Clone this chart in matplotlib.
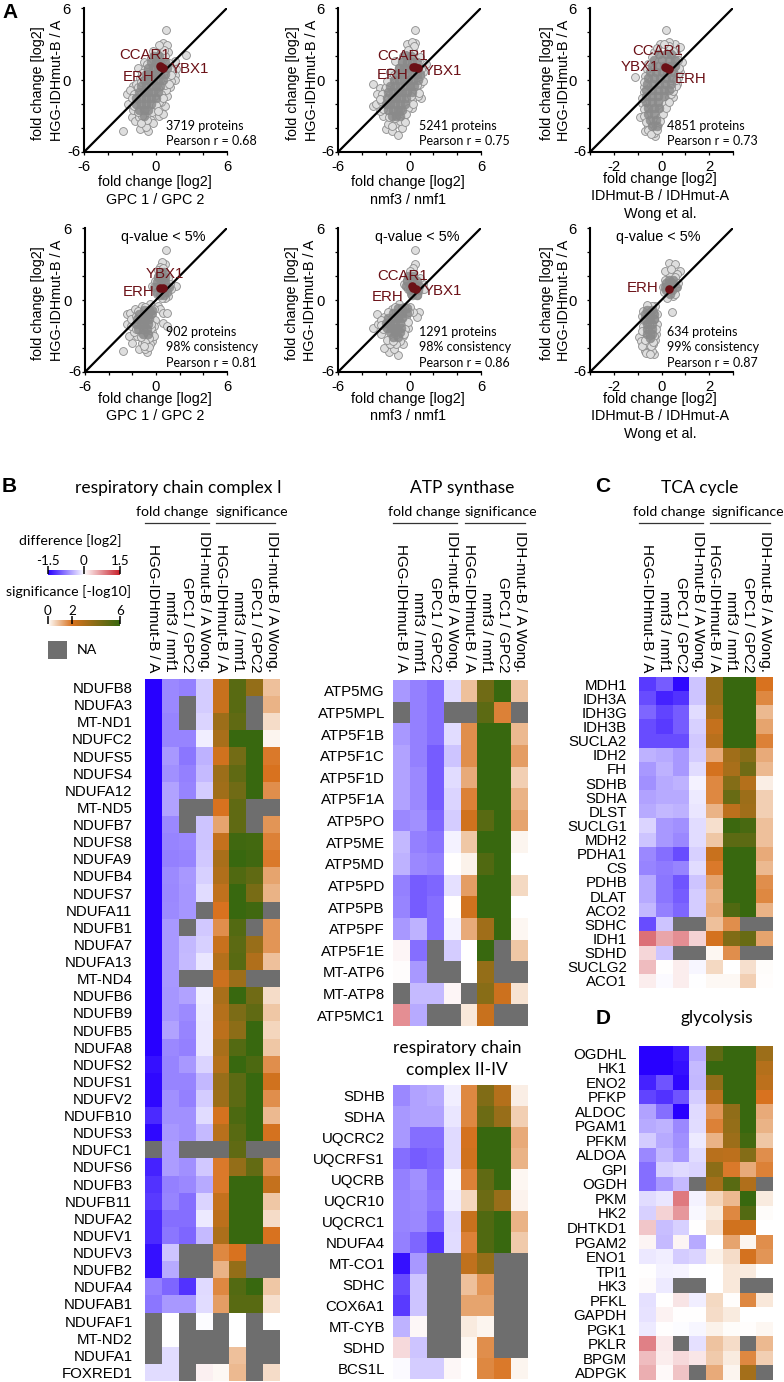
import numpy as np
import matplotlib
matplotlib.use('Agg')
import matplotlib.pyplot as plt
from matplotlib.colors import LinearSegmentedColormap, Normalize
from matplotlib.transforms import ScaledTranslation

plt.rcParams['font.family'] = ['Liberation Sans', 'DejaVu Sans']
W, H = 784, 1382
N = np.nan

# ---------- scatter data (log2 fold changes) ----------
P1_x = [.87,.65,.93,.37,1.07,2.55,-.95,-1.5,1.6,1.76,1.6,1.6,1.2,.93,.8,-.05,-.38,-.6,-1.3,-2.7,-2,-2.4,-2.3,-1.85,-1.3,.3,-1,-1.7,1.3,1.4,.9,.5,-.2,1.1,.8,.1,-.4,-.9,-1.6,-2.1,-1.9,-1.4,-.8,.6]
P1_y = [4.19,3.07,2.93,2.6,2.3,2.1,1.5,1,1.6,.9,.45,0,-.6,-1.3,-2.15,-2.4,-3.3,-4.25,-4.1,-4.25,-3.1,-1.2,-2,-.5,.2,-3,-3.5,-3.4,-.1,.7,-.8,-1.8,-3.6,1.4,2,2.1,1.8,.9,-.3,-.8,-2.5,-3.1,-3.9,-2.8]
P1_mid_x = [-1.8,-1.5,-1.2,-.9,-.6,-.4,1.2,1,.8,.5,.3,0,-.3,-.7,-1.1,-1.5,-1.8,-2,-1.2,.2,.6,1.1,1.3,.7,.3,-.2,-.7,-1.1]
P1_mid_y = [-1.2,-.6,-.2,.3,.9,1.4,.9,.2,-.4,-1.2,-1.8,-2.1,-2.7,-3.3,-3,-2.7,-2.2,-1.5,-3.6,-2.6,-1.5,-.3,.4,2.5,2.9,2.4,1.3,.6]
P1_core_y = [2,1.5,1,.5,0,-.5,-1,-1.5,-2,-2.5,-3]
P1_core_x = [[-.1,.3],[-.4,0,.4,.8],[-.6,-.2,.2,.6,1],[-.8,-.4,0,.4,.8],[-1,-.6,-.2,.2,.6],[-1.2,-.8,-.4,0,.4],[-1.4,-1,-.6,-.2,.2],[-1.6,-1.2,-.8,-.4,0],[-1.6,-1.2,-.8,-.4],[-1.4,-1,-.6],[-1]]
P1_hit_x = [.35,.45,.6]
P1_hit_y = [1.15,1.05,1.0]

P2_x = [.5,.45,0,-3.05,-2.5,-2.7,-3.05,-2.8,-2.2,-2,-1.5,-1,-.67,-.5,.17,1,.6,.87,1.15,1.4,.87,-1.2,-1.65,-2.07,-2.35,-2.5,-1.8,-1.2,-.8,-.2,.3,-.55,.7,1.15]
P2_y = [4.2,3.08,3,-.35,-.67,-1.18,-2.15,-2,-3,-4.1,-4.25,-4.6,-4,-3,-2.3,-1.5,-.9,-.33,-.05,1.35,1.9,1.6,.65,-.75,-1.75,-2.6,-3.7,-3.7,-2.6,3,2.45,2,-1.3,.65]
P2_mid_x = [-2.3,-2,-1.7,-1.3,-.9,-.6,1,.9,.6,.5,.2,-.1,-.3,-.8,-1.2,-1.7,-2.2,-2.5,-1.5,-.4,.1,.2,.4,-.1,-.3,-1.9,.3,.8]
P2_mid_y = [-1.2,-.6,-.2,.4,1,1.5,.9,.3,-.4,-1,-1.7,-2.3,-2.8,-3.4,-3.2,-3.1,-2.4,-1.6,-3.8,-3.5,-1.3,3.2,2.8,2.5,2.1,-.1,-2,-1.1]
P2_core_y = [2,1.5,1,.5,0,-.5,-1,-1.5,-2,-2.5,-3]
P2_core_x = [[-.3,.1],[-.6,-.2,.2,.6],[-.9,-.5,-.1,.3,.7],[-1,-.6,-.2,.2,.6,.9],[-1.3,-.9,-.5,-.1,.3,.7],[-1.6,-1.2,-.8,-.4,0,.4],[-1.8,-1.4,-1,-.6,-.2,.2],[-1.9,-1.5,-1.1,-.7,-.3],[-2,-1.6,-1.2,-.8,-.4],[-1.8,-1.4,-1,-.6],[-1.5,-1.1,-.8]]
P2_hit_x = [.3,.5,.7]
P2_hit_y = [1.1,1.05,1.0]

P3_x = [.17,.57,.3,.78,.85,.78,.65,.5,.3,0,-.13,-.27,-.7,-.9,-.83,-.75,-1.1,-.55,-.33,-.05,.65,.5,-.05,-.33,-.55,-.7,.15,.7]
P3_y = [4.2,3,3.15,2.75,1.5,.65,-.33,-.75,-1.45,-2.6,-3.7,-4.7,-4.25,-3.1,-1.9,-.6,.28,1.35,2.3,3,2.05,-1.45,-3.1,-4.4,-3.85,-2.3,-2,.2]
P3_mid_x = [-.75,-.8,-.75,-.75,-.65,-.55,-.45,-.2,-.05,.05,.2,.3,.4,.5,.6,.7,.75,.7,.5,.3,.1,-.2,-.4,-.6,-.7,-.75,.6,.4]
P3_mid_y = [-1,-1.5,-2.4,-3,-3.5,-4.2,-4.5,-4.2,-3.4,-2.8,-2.3,-1.8,-1.2,-.9,-.5,.5,1,1.7,2.4,2.8,3,2.7,1.9,.9,.3,-.2,0,-.7]
P3_core_y = [2.2,1.7,1.2,.7,.2,-.3,-.8,-1.3,-1.8,-2.3,-2.8,-3.3,-3.8]
P3_core_x = [[-.1,.2,.4],[-.3,0,.3,.55],[-.4,-.15,.1,.35,.55],[-.5,-.25,0,.25,.5],[-.55,-.3,-.05,.2,.45],[-.6,-.35,-.1,.15,.4],[-.65,-.4,-.15,.1,.3],[-.65,-.4,-.15,.1],[-.65,-.4,-.15],[-.55,-.3,-.1],[-.55,-.3],[-.5,-.25],[-.4,-.2]]
P3_hit_x = [.15,.25,.3]
P3_hit_y = [1.1,1.0,.95]

P4_x = [.87,.75,.5,-.37,1.7,1.3,1,.35,.2,.35,.6,.95,.6,.95,-.3,-.35,-.73,-1.4,-2.75,-2.05,-2.25,-2.47,-2.47,-2.2,-1.75,-1.2,-.5,-.5,-.2,-.93,-.5,-1.2,-1.6]
P4_y = [4.2,3,3.15,1.2,1.15,.9,.35,2.75,-.5,-.75,-1.05,-1.05,-1.9,-2.15,-2.7,-3.4,-4.35,-4.1,-4.25,-3.55,-3,-1.2,-2,-1.05,-.75,-.5,-.35,-1.75,-.75,-4.1,-3.7,-3.55,-3]
P4_mid_x = [.2,.6,-.1,-.2,.1,1,1.2,.8,.5,.2,-.3,-.1,-.2,-.4,-.2,-.6,-.9,-1.3,-1.9,-2.1,-2.1,-1.7,-1.5,-.9,-.6,-1,-1.7,-.45]
P4_mid_y = [2.5,2.7,1.6,1.1,.5,1.8,1.3,.2,.2,2,-1.2,-1.7,-2.2,-2.3,-3,-3.2,-3.5,-3.1,-2.7,-2.2,-1.6,-1.3,-.9,-.6,-3.9,-3.8,-2.4,-2]
P4_core_y = [2.3,1.9,1.5,1.1,.7,.4,-.8,-1.2,-1.6,-2,-2.4,-2.8]
P4_core_x = [[.4,.7],[.2,.5,.8],[.1,.4,.8],[0,.4,.8,1.1],[.1,.5,.9],[.3,.7],[-1,-.6,-.3],[-1.4,-1,-.7,-.4],[-1.6,-1.2,-.9,-.6],[-1.7,-1.3,-1,-.7],[-1.5,-1.1,-.8],[-1.1,-.7]]
P4_hit_x = [.35,.55]
P4_hit_y = [1.0,1.0]

P5_x = [.47,.42,.28,-.42,.84,1.1,.78,.6,.28,-.28,-.14,-.56,-.98,-1.68,-2.1,-2.37,-3.07,-2.74,-2.1,-1.5,-.84,-.56,-1.26,0,-2.65]
P5_y = [4.2,3,2.68,1.35,.8,1.35,-1.03,-1.45,-1.03,-1.45,-2.3,-3,-4.6,-4.3,-4,-2.85,-2.3,-1.17,-1.45,-.75,-.33,-3.7,-4.1,-.6,-2]
P5_mid_x = [0,.3,-.2,-.1,.9,1.2,.6,.1,-.05,-.5,-.1,-.4,-.5,-.8,-1.1,-1.6,-1.9,-2.2,-2.4,-1.8,-1.2,-2.4,-1.4]
P5_mid_y = [2.4,2.2,1.7,.9,1.8,.9,.4,.5,-1,-.6,-1.8,-2.4,-2.8,-3.4,-3.7,-3.7,-3.3,-2.4,-1.7,-1,-.6,-2.1,-3.4]
P5_core_y = [2,1.6,1.2,.8,.4,-.7,-1.1,-1.5,-1.9,-2.3,-2.7,-3.1]
P5_core_x = [[-.1,.3],[-.2,.2,.6],[-.3,.1,.5,.8],[0,.4,.7],[.2,.6],[-1,-.6,-.2],[-1.4,-1,-.6,-.2],[-1.8,-1.4,-1,-.6],[-2,-1.6,-1.2,-.8],[-1.9,-1.5,-1.1,-.7],[-1.6,-1.2,-.8],[-1.4,-1]]
P5_hit_x = [.25,.3,.55]
P5_hit_y = [1.15,1.0,.95]

P6_x = [.3,.58,.79,.37,.65,.43,.22,.5,.65,-.27,-.2,-.2,-.22,-.34,-.3,-.69,-.93,-.83,-.76,-.48,-.4,-.6,-.27,-.76]
P6_y = [3.07,3,2.45,2.05,1.05,-1,1.35,.35,2.2,-.5,-1.17,-2,-2.85,-3.7,-4.5,-4.25,-3.1,-1.3,-.9,-.6,-4.25,-3.7,-3.3,-2.15]
P6_mid_x = [.15,.4,.55,.15,.05,.1,.55,.7,.25,.4,-.4,-.3,-.25,-.3,-.75,-.8,-.85,-.8,-.65,-.5,-.45,-.7,-.35,-.5,-.35,-.6]
P6_mid_y = [2.4,2.6,1.9,1.7,1.1,.7,.5,1.4,.2,.9,-.5,-1.6,-2.4,-3,-1.7,-2.6,-3.4,-3.8,-4.4,-4.5,-3.8,-3.3,-3.5,-2.9,-1,-.4]
P6_core_y = [1.7,1.4,1.1,.8,.5,-.8,-1.2,-1.6,-2,-2.4,-2.8,-3.2]
P6_core_x = [[.3,.5],[.2,.45],[.15,.35,.6],[.2,.45],[.35],[-.6,-.4],[-.7,-.5,-.3],[-.7,-.5,-.3],[-.6,-.4],[-.6,-.4],[-.6,-.4],[-.5]]
P6_hit_x = [.3]
P6_hit_y = [.95]

# ---------- heat map data: four log2 differences, then four -log10 significances ----------
col_labels = ['HGG-IDHmut-B / A', 'nmf3 / nmf1', 'GPC1 / GPC2', 'IDH-mut-B / A Wong.',
              'HGG-IDHmut-B / A', 'nmf3 / nmf1', 'GPC1 / GPC2', 'IDH-mut-B / A Wong.']

c1_genes = ['NDUFB8','NDUFA3','MT-ND1','NDUFC2','NDUFS5','NDUFS4','NDUFA12','MT-ND5','NDUFB7','NDUFS8','NDUFA9','NDUFB4','NDUFS7','NDUFA11','NDUFB1','NDUFA7','NDUFA13','MT-ND4','NDUFB6','NDUFB9','NDUFB5','NDUFA8','NDUFS2','NDUFS1','NDUFV2','NDUFB10','NDUFS3','NDUFC1','NDUFS6','NDUFB3','NDUFB11','NDUFA2','NDUFV1','NDUFV3','NDUFB2','NDUFA4','NDUFAB1','NDUFAF1','MT-ND2','NDUFA1','FOXRED1']
c1_vals = [
[-1.5,-.7,-.75,-.3,2.4,5.2,3.7,.9],[-1.5,-.7,N,-.3,2.4,5.2,N,1.1],[-1.5,-.72,N,-.25,3.5,5,N,.5],[-1.5,-.72,-.72,-.1,3.2,6,6,.15],
[-1.5,-.6,-.8,-.45,2.2,4.5,6,1.9],[-1.5,-.65,-.75,-.4,3.5,5,6,2],[-1.5,-.55,-.72,-.3,3.4,4.6,6,1.6],[-1.5,-.55,N,N,2,5,N,N],
[-1.5,-.7,N,-.35,1.3,5,N,1.5],[-1.5,-.72,-.7,-.35,2.5,5.8,5.7,1.8],[-1.5,-.75,-.72,-.32,3.2,6,5.8,1.9],[-1.5,-.68,-.6,-.28,3,5.4,5,1.3],
[-1.5,-.7,-.62,-.2,2.6,6,4.4,1.1],[-1.5,-.68,-.62,N,2,6,5.8,N],[-1.5,-.6,N,-.32,1.6,5.3,N,1.5],[-1.5,-.6,-.42,-.28,2.4,5.1,3.6,1.5],
[-1.5,-.6,-.4,-.15,2.9,5.2,3,.9],[-1.5,-.6,N,N,2.3,3.5,N,N],[-1.5,-.62,-.55,-.1,3.2,6,4.6,.5],[-1.5,-.62,-.68,-.12,2.9,4.3,5,.8],
[-1.5,-.55,-.72,-.13,2.7,3.9,6,.6],[-1.5,-.7,-.75,-.13,3.2,5.3,6,.8],[-1.4,-.72,-.6,-.25,2.9,6,5.5,1.6],[-1.45,-.72,-.72,-.42,3.6,5.1,6,2.2],
[-1.45,-.65,-.75,-.3,3.5,5.1,6,1.6],[-1.25,-.65,-.65,-.2,2.1,5.5,6,1],[-1.45,-.6,-.65,-.4,2.8,5.2,6,2.1],[N,-.58,N,N,N,5,N,N],
[-1.3,-.58,-.65,-.32,1.9,3.7,4.9,1.6],[-1.2,-.75,-.7,-.5,1.9,6,6,2.5],[-1.15,-.72,-.85,-.25,2.5,6,6,.8],[-1.25,-.85,-.85,-.12,2.7,6,6,.5],
[-1.25,-.8,-.9,-.4,3.1,6,6,2],[-1.4,-.35,N,N,1.7,2,N,N],[-1.4,-.5,N,N,1.1,3.7,N,N],[-.75,-.9,-1.2,-.22,1.7,5.3,6,.8],
[-.8,-.6,-.6,-.2,1.4,5.2,5.2,.45],[N,0,N,-.02,N,0,N,0],[N,-.01,N,N,N,0,N,N],[N,-.2,N,N,N,.9,N,N],[-.2,-.2,N,.1,.1,1,N,.5]]

atp_genes = ['ATP5MG','ATP5MPL','ATP5F1B','ATP5F1C','ATP5F1D','ATP5F1A','ATP5PO','ATP5ME','ATP5MD','ATP5PD','ATP5PB','ATP5PF','ATP5F1E','MT-ATP6','MT-ATP8','ATP5MC1']
atp_vals = [
[-.6,-.75,-.85,-.2,.9,4.6,6,.85],[N,-.75,-.85,N,N,5.1,1.8,N],[-.6,-.75,-.85,-.2,1.6,6,6,1],[-.55,-.75,-.95,-.35,1.6,6,6,1.4],
[-.55,-.7,-.95,-.2,1.2,6,6,.7],[-.55,-.7,-.95,-.25,1.8,6,6,1.1],[-.7,-.65,-.9,-.3,2.2,5.2,6,1.3],[-.42,-.75,-.82,-.08,.8,6,6,.15],
[-.45,-.7,-.75,0,.2,5.4,6,0],[-.75,-.95,-.9,-.18,1.4,6,6,.55],[-.72,-.95,-.85,0,2.2,6,6,.01],[-.6,-.45,-.85,-.08,1.2,3.4,6,.12],
[.06,-.85,N,-.3,0,6,N,.8],[.02,-.6,N,N,0,3.7,N,N],[N,-.4,-.4,.07,N,4,2.3,.4],[.75,-.5,N,N,.35,2.4,N,N]]

c24_genes = ['SDHB','SDHA','UQCRC2','UQCRFS1','UQCRB','UQCR10','UQCRC1','NDUFA4','MT-CO1','SDHC','COX6A1','MT-CYB','SDHD','BCS1L']
c24_vals = [
[-.7,-.55,-.5,-.1,1.7,4.2,2.9,.25],[-.6,-.55,-.55,-.15,1.7,4.7,3.6,.7],[-.6,-.85,-.85,-.22,2.1,6,6,1.2],[-.85,-.95,-.9,-.22,2.2,6,6,1.1],
[-.75,-.65,-.85,-.05,1.8,5,6,.12],[-.72,-.68,-.8,-.1,.6,4.7,3.6,.18],[-.72,-.7,-.9,-.22,2.4,5.4,6,1.1],[-.75,-.9,-1.2,-.2,1.8,5.4,6,.75],
[-1.4,-.6,N,N,2.6,3.7,N,N],[-1.05,-.35,N,N,.9,1.5,N,N],[-1.15,-.35,N,N,1.3,1.3,N,N],[-.45,.05,N,N,.3,.15,N,N],[.25,-.35,N,N,.12,1.6,N,N],[-.03,-.3,-.3,.05,0,1.7,1.9,.15]]

tca_genes = ['MDH1','IDH3A','IDH3G','IDH3B','SUCLA2','IDH2','FH','SDHB','SDHA','DLST','SUCLG1','MDH2','PDHA1','CS','PDHB','DLAT','ACO2','SDHC','IDH1','SDHD','SUCLG2','ACO1']
tca_vals = [
[-1.15,-.95,-1.45,-.35,3.7,6,6,2],[-1.05,-1.3,-1.2,-.35,3.7,6,6,1.7],[-.9,-1.1,-.95,-.2,3.2,6,6,1],[-1.05,-1.15,-.95,-.28,2.5,6,6,1.3],
[-1.05,-1.05,-1.05,-.32,2.8,6,6,1.8],[-.45,-.5,-.6,-.3,1.2,3.4,4,1.2],[-.6,-.45,-.6,-.2,2.1,3.2,4.6,1],[-.65,-.5,-.45,-.08,1.7,4.1,2.9,.25],
[-.55,-.5,-.5,-.12,1.7,4.8,3.5,.7],[-.5,-.42,-.45,-.15,1.1,2.7,3.4,.7],[-.25,-.6,-.65,-.2,.45,5.9,5.6,.9],[-.35,-.6,-.7,-.2,.8,5.1,5.1,.9],
[-.7,-.85,-1.05,-.28,2.4,6,6,1.2],[-.72,-.78,-.72,-.2,1.9,6,6,1],[-.5,-.8,-1,-.35,1.3,6,6,1.6],[-.5,-.8,-.95,-.3,1.1,6,6,1.7],
[-.42,-.75,-.9,-.3,1.2,5.4,6,1.1],[-1.05,-.35,N,N,.9,1.6,N,N],[.95,.6,.75,.3,2.1,4.2,4.8,1.3],[.27,-.35,N,N,.12,1.6,N,N],
[.45,.01,.12,-.05,.55,.02,.45,.06],[.12,-.03,.12,-.01,.1,.1,.7,.03]]

gly_genes = ['OGDHL','HK1','ENO2','PFKP','ALDOC','PGAM1','PFKM','ALDOA','GPI','OGDH','PKM','HK2','DHTKD1','PGAM2','ENO1','TPI1','HK3','PFKL','GAPDH','PGK1','PKLR','BPGM','ADPGK']
gly_vals = [
[-1.5,-1.5,-1.35,-.5,5,6,6,3.5],[-1.5,-1.5,-1.4,-.4,6,6,6,2.9],[-1.3,-1,-1.45,-.42,3.8,6,6,2.7],[-1.1,-1.2,-1,-.3,2.8,6,6,2],
[-.55,-.85,-1.5,-.22,1.5,3.8,6,1.2],[-.5,-.45,-.7,-.2,1.8,3.7,6,1.1],[-.3,-.5,-.65,-.12,1.1,3.5,5.7,.8],[-.7,-.42,-.6,-.2,2.8,2.7,4.1,1.6],
[-.85,-.28,-.22,-.25,3.9,1.9,1.2,1.8],[-.85,-.6,-.4,N,3.3,5.2,3,N],[-.2,-.15,.9,-.08,.6,1,6,.3],[-.28,.3,.7,-.04,.3,1.7,5.3,.06],
[.38,-.38,-.28,0,.45,2.2,2.2,0],[.08,-.4,.08,-.5,0,1.3,.15,1.6],[-.14,-.1,-.3,-.25,.2,.5,2.1,1.5],[0,-.08,-.06,-.01,.01,.35,.3,.02],
[.03,-.12,N,N,0,.35,N,N],[-.18,.01,.18,-.1,.55,.03,1.7,.35],[-.17,.09,0,0,.5,.3,0,0],[-.12,.01,-.02,-.05,.2,.05,.03,.12],
[.85,.15,N,-.18,.85,.5,N,1],[.45,.12,.25,.17,.75,.3,1.7,.7],[.55,.04,.4,N,1.2,.15,3.3,N]]

# ---------- styles ----------
GREY = '#6e6e6e'
DARK = '#6b1016'
cm_diff = LinearSegmentedColormap.from_list('d', ['#2800ff', '#ffffff', '#c9202a'])
cm_sig = LinearSegmentedColormap.from_list('s', [(0, '#ffffff'), (1/3, '#d8721f'), (1, '#38680f')])
cm_diff.set_bad(GREY)
cm_sig.set_bad(GREY)
norm_diff = Normalize(-1.5, 1.5)
norm_sig = Normalize(0, 6)
SANS = ['Lato', 'DejaVu Sans']

fig = plt.figure(figsize=(W/100, H/100), dpi=100, facecolor='white')

def pxax(l, t, r, b):
    return fig.add_axes([l/W, 1-b/H, (r-l)/W, (b-t)/H])

def txt(x, y, s, size=10.4, ha='center', va='center', color='black', rot=0, family=None, weight='normal'):
    fig.text(x/W, 1-y/H, s, fontsize=size, ha=ha, va=va, color=color, rotation=rot,
             family=family if family else plt.rcParams['font.family'], fontweight=weight)

def scatter_panel(box, xlim, xs, ys, mx, my, core_y, core_x, hx, hy, xticks, xticklabs):
    ax = pxax(*box)
    ax.scatter(list(xs) + list(mx), list(ys) + list(my), s=32, facecolor='#dedede', edgecolor='#8c8c8c',
               linewidth=.6, zorder=2, clip_on=False)
    cy = [y for y, row in zip(core_y, core_x) for _ in row]
    cx = [x for row in core_x for x in row]
    ax.scatter(cx, cy, s=40, facecolor='#8a8a8a', edgecolor='#8a8a8a', linewidth=.5, alpha=.85, zorder=3, clip_on=False)
    ax.plot(xlim, [-6, 6], color='black', lw=1.6, zorder=4, solid_capstyle='butt')
    ax.scatter(hx, hy, s=38, color=DARK, linewidth=0, zorder=5)
    ax.set_xlim(xlim)
    ax.set_ylim(-6, 6)
    for s in ('top', 'right'):
        ax.spines[s].set_visible(False)
    for s in ('left', 'bottom'):
        ax.spines[s].set_linewidth(1.5)
    ax.set_xticks(xticks)
    ax.set_xticklabels(xticklabs, fontsize=10.6)
    ax.set_yticks([-6, -4, -2, 0, 2, 4, 6])
    ax.set_yticklabels(['-6', '', '', '0', '', '', '6'], fontsize=10.6)
    ax.tick_params(axis='x', length=2.5, width=.9, pad=3.5)
    ax.tick_params(axis='y', length=2.5, width=.9, pad=7)
    lab = ax.get_yticklabels()[0]
    lab.set_transform(lab.get_transform() + ScaledTranslation(.10, .015, fig.dpi_scale_trans))
    return ax

T6 = [-6, -4, -2, 0, 2, 4, 6]
L6 = ['-6', '', '', '0', '', '', '6']
T3 = [-3, -2, -1, 0, 1, 2, 3]
L3 = ['', '-2', '', '0', '', '2', '']

scatter_panel((84, 8, 227, 152), [-6, 6], P1_x, P1_y, P1_mid_x, P1_mid_y, P1_core_y, P1_core_x, P1_hit_x, P1_hit_y, T6, L6)
scatter_panel((338, 8, 481, 152), [-6, 6], P2_x, P2_y, P2_mid_x, P2_mid_y, P2_core_y, P2_core_x, P2_hit_x, P2_hit_y, T6, L6)
scatter_panel((590, 8, 733, 152), [-3, 3], P3_x, P3_y, P3_mid_x, P3_mid_y, P3_core_y, P3_core_x, P3_hit_x, P3_hit_y, T3, L3)
scatter_panel((85, 228, 227, 372), [-6, 6], P4_x, P4_y, P4_mid_x, P4_mid_y, P4_core_y, P4_core_x, P4_hit_x, P4_hit_y, T6, L6)
scatter_panel((338, 228, 481, 372), [-6, 6], P5_x, P5_y, P5_mid_x, P5_mid_y, P5_core_y, P5_core_x, P5_hit_x, P5_hit_y, T6, L6)
scatter_panel((590, 228, 733, 372), [-3, 3], P6_x, P6_y, P6_mid_x, P6_mid_y, P6_core_y, P6_core_x, P6_hit_x, P6_hit_y, T3, L3)

# axis captions
for x1, x2, y in [(38, 57, 80), (293, 312, 80), (547, 564, 80), (38, 57, 300), (292, 310, 300), (547, 564, 300)]:
    txt(x1, y + 3, 'fold change [log2]', rot=90)
    txt(x2, y, 'HGG-IDHmut-B / A', rot=90)
for cx, yo, lines in [(155, 182, ['GPC 1 / GPC 2']), (408, 182, ['nmf3 / nmf1']), (660, 179, ['IDHmut-B / IDHmut-A', 'Wong et al.']),
                      (155, 399, ['GPC 1 / GPC 2']), (408, 399, ['nmf3 / nmf1']), (660, 399, ['IDHmut-B / IDHmut-A', 'Wong et al.'])]:
    txt(cx, yo, 'fold change [log2]')
    for i, s in enumerate(lines):
        txt(cx, yo + 17.5*(i+1), s)

# gene labels in the scatter panels
for x, y, s in [(145,55,'CCAR1'),(139,77,'ERH'),(190,69,'YBX1'),(403,56,'CCAR1'),(393,75,'ERH'),(443,71,'YBX1'),
                (658,51,'CCAR1'),(640,67,'YBX1'),(691,79,'ERH'),(165,274,'YBX1'),(139,292,'ERH'),
                (403,276,'CCAR1'),(388,297,'ERH'),(443,291,'YBX1'),(643,288,'ERH')]:
    txt(x, y, s, size=10.8, color=DARK)
for x in (163, 417, 658):
    txt(x, 237, 'q-value < 5%', size=10.4)

# statistics
for x, a, b in [(166,'3719 proteins','Pearson r = 0.68'),(419,'5241 proteins','Pearson r = 0.75'),(667,'4851 proteins','Pearson r = 0.73')]:
    txt(x, 126, a, size=9, ha='left', family=SANS)
    txt(x, 141, b, size=9, ha='left', family=SANS)
for x, a, b, c in [(166,'902 proteins','98% consistency','Pearson r = 0.81'),(419,'1291 proteins','98% consistency','Pearson r = 0.86'),(667,'634 proteins','99% consistency','Pearson r = 0.87')]:
    txt(x, 332, a, size=9, ha='left', family=SANS)
    txt(x, 347, b, size=9, ha='left', family=SANS)
    txt(x, 363, c, size=9, ha='left', family=SANS)

def heat(box, genes, vals, pad, top_pad):
    ax = pxax(*box)
    v = np.array(vals, dtype=float)
    rows = np.arange(len(genes) + 1)
    ax.pcolormesh(np.arange(5), rows, v[:, :4], cmap=cm_diff, norm=norm_diff, antialiased=False, linewidth=0, rasterized=True)
    ax.pcolormesh(np.arange(4, 9), rows, v[:, 4:], cmap=cm_sig, norm=norm_sig, antialiased=False, linewidth=0, rasterized=True)
    ax.set_xlim(0, 8)
    ax.set_ylim(len(genes), 0)
    for s in ax.spines.values():
        s.set_visible(False)
    ax.set_yticks(np.arange(len(genes)) + .5)
    ax.set_yticklabels(genes, fontsize=10.8)
    ax.tick_params(axis='y', length=0, pad=pad)
    if top_pad is not None:
        ax.xaxis.tick_top()
        ax.set_xticks(np.arange(8) + .5)
        ax.set_xticklabels(col_labels, rotation=-90, fontsize=11, ha='center', va='bottom')
        ax.tick_params(axis='x', length=0, pad=top_pad)
    else:
        ax.set_xticks([])

heat((145, 679, 280, 1381), c1_genes, c1_vals, 9, 5)
heat((393, 680, 528, 1026), atp_genes, atp_vals, 5.8, 5.5)
heat((393, 1085, 528, 1379), c24_genes, c24_vals, 5.8, None)
heat((639, 677, 773, 988), tca_genes, tca_vals, 8.6, 3.5)
heat((639, 1046, 773, 1380), gly_genes, gly_vals, 8.6, None)

# heat map headers
for cx, y, s in [(178, 488, 'respiratory chain complex I'), (462, 488, 'ATP synthase'), (700, 488, 'TCA cycle'),
                 (457, 1048, 'respiratory chain'), (457, 1070, 'complex II-IV'), (717, 1018, 'glycolysis')]:
    txt(cx, y, s, size=12.5, family=SANS)
for fx, sx, a, b, c, d in [(172, 252, 145, 209, 216, 275), (424, 501, 393, 457, 465, 525), (669, 748, 639, 703, 710, 770)]:
    txt(fx, 512, 'fold change', size=10.2, family=SANS)
    txt(sx, 512, 'significance', size=10.2, family=SANS)
    for x0, x1 in ((a, b), (c, d)):
        fig.add_artist(plt.Line2D([x0/W, x1/W], [1-523/H, 1-523/H], color='#333333', lw=.9))

# legends
txt(70, 541, 'difference [log2]', size=10.2, family=SANS)
txt(68, 592, 'significance [-log10]', size=10.2, family=SANS)
grad = np.linspace(0, 1, 256)[None, :]
axd = pxax(48, 570, 120, 575)
axd.imshow(grad, aspect='auto', cmap=cm_diff, extent=(-1.5, 1.5, 0, 1))
axd.set_xticks([-1.5, 0, 1.5])
axd.set_xticklabels(['-1.5', '0', '1.5'], fontsize=9.6, family=SANS)
axs = pxax(48, 620, 120, 626)
axs.imshow(grad, aspect='auto', cmap=cm_sig, extent=(0, 6, 0, 1))
axs.set_xticks([0, 2, 6])
axs.set_xticklabels(['0', '2', '6'], fontsize=9.6, family=SANS)
for a in (axd, axs):
    a.set_yticks([])
    for s in a.spines.values():
        s.set_visible(False)
    a.xaxis.tick_top()
    a.tick_params(axis='x', direction='inout', length=6, width=1.1, pad=-.5)
axn = pxax(48, 641, 67, 659)
axn.set_facecolor(GREY)
axn.set_xticks([])
axn.set_yticks([])
for s in axn.spines.values():
    s.set_visible(False)
txt(87, 650, 'NA', size=10.2, family=SANS)

# panel letters
for x, y, s in [(10, 12, 'A'), (9, 486, 'B'), (603, 486, 'C'), (603, 1018, 'D')]:
    txt(x, y, s, size=15, weight='bold')

fig.savefig('out.png', dpi=100, facecolor='white')
